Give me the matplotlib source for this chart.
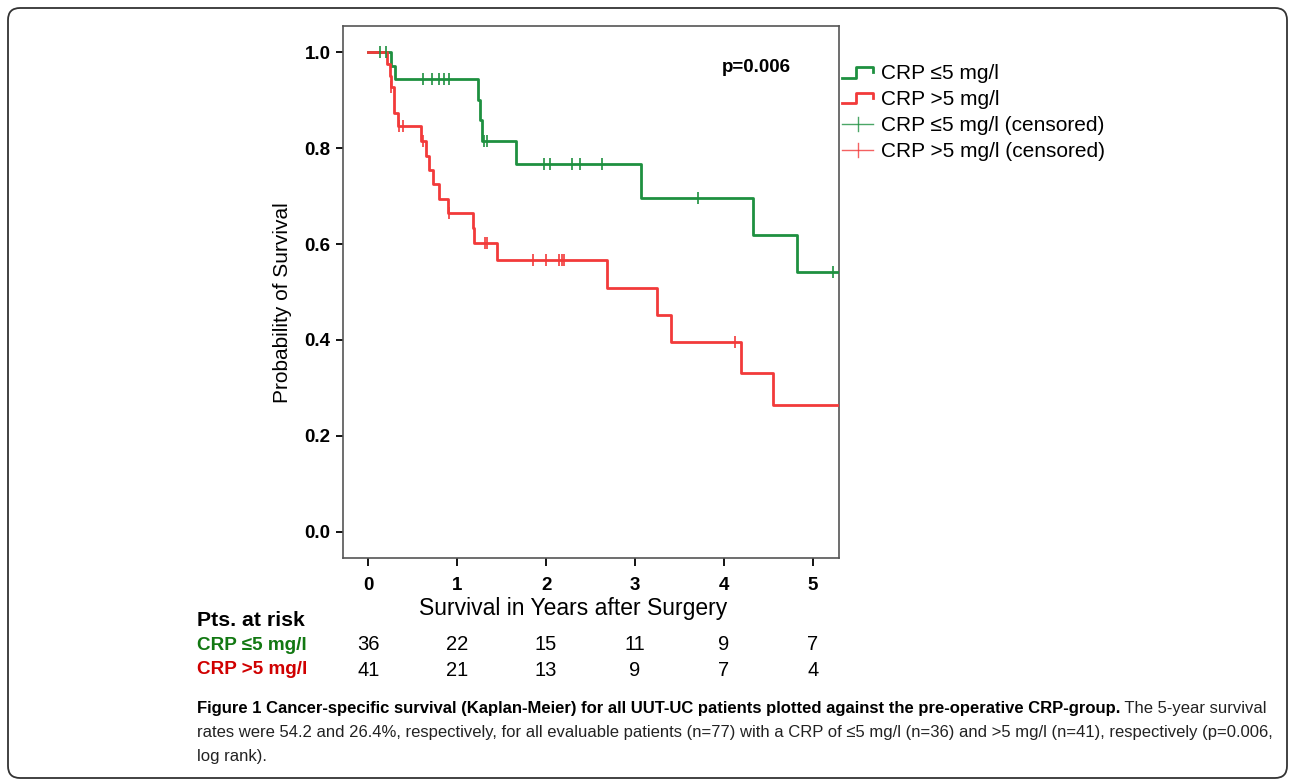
import matplotlib
matplotlib.use("Agg")
import matplotlib.pyplot as plt
import numpy as np
from matplotlib import transforms
from matplotlib.legend_handler import HandlerBase
from matplotlib.lines import Line2D
from matplotlib.patches import FancyBboxPatch

plt.rcParams["font.family"] = ["Liberation Sans", "DejaVu Sans"]

GREEN = "#1E9040"
RED = "#F23A3A"
GREEN_TXT = "#127812"
RED_TXT = "#D00000"
AX_COL = "#555555"

LOW_LABEL = "CRP \u22645 mg/l"
HIGH_LABEL = "CRP >5 mg/l"

# CRP <=5 mg/l: event times (years) and survival right after each event
low_event_t = [0.255, 0.30, 1.23, 1.255, 1.275, 1.66, 3.064, 4.33, 4.82]
low_event_s = [0.972, 0.944, 0.901, 0.858, 0.815, 0.767, 0.697, 0.619, 0.541]
low_censor_t = [0.13, 0.20, 0.615, 0.72, 0.795, 0.85, 0.91, 1.30, 1.34,
                1.976, 2.044, 2.29, 2.38, 2.63, 3.71, 5.23]
low_end = 5.35

# CRP >5 mg/l
high_event_t = [0.214, 0.245, 0.255, 0.285, 0.29, 0.337, 0.59, 0.65, 0.683,
                0.731, 0.80, 0.90, 1.18, 1.19, 1.444, 2.69, 3.253, 3.40,
                4.19, 4.55]
high_event_s = [0.976, 0.951, 0.927, 0.900, 0.873, 0.846, 0.815, 0.784, 0.755,
                0.725, 0.694, 0.665, 0.633, 0.602, 0.566, 0.508, 0.452, 0.396,
                0.330, 0.264]
high_censor_t = [0.26, 0.35, 0.39, 0.62, 0.91, 1.313, 1.33, 1.856, 1.999,
                 2.148, 2.175, 2.20, 4.125]
high_end = 5.35

risk_years = [0, 1, 2, 3, 4, 5]
low_at_risk = [36, 22, 15, 11, 9, 7]
high_at_risk = [41, 21, 13, 9, 7, 4]

p_text = "p=0.006"
caption_bold = ("Figure 1 Cancer-specific survival (Kaplan-Meier) for all UUT-UC "
                "patients plotted against the pre-operative CRP-group.")
caption_rest = " The 5-year survival"
caption_line2 = ("rates were 54.2 and 26.4%, respectively, for all evaluable patients "
                 "(n=77) with a CRP of \u22645 mg/l (n=36) and >5 mg/l (n=41), "
                 "respectively (p=0.006,")
caption_line3 = "log rank)."


def surv_at(t, ev_t, ev_s):
    idx = np.searchsorted(ev_t, t, side="right") - 1
    return np.where(idx < 0, 1.0, np.asarray(ev_s)[np.clip(idx, 0, None)])


class StepHandler(HandlerBase):
    def create_artists(self, legend, orig_handle, xdescent, ydescent,
                       width, height, fontsize, trans):
        xs = np.array([0.0, 0.45, 0.45, 1.0, 1.0]) * width - xdescent
        ys = np.array([0.1, 0.1, 0.8, 0.8, 0.45]) * height - ydescent
        return [Line2D(xs, ys, color=orig_handle.get_color(), lw=2.0,
                       transform=trans)]


class CensorHandler(HandlerBase):
    def create_artists(self, legend, orig_handle, xdescent, ydescent,
                       width, height, fontsize, trans):
        c = orig_handle.get_color()
        h = Line2D([-xdescent, width - xdescent], [0.45 * height - ydescent] * 2,
                   color=c, lw=1.0, alpha=0.8, transform=trans)
        v = Line2D([0.5 * width - xdescent] * 2,
                   [-0.05 * height - ydescent, 0.95 * height - ydescent],
                   color=c, lw=1.0, alpha=0.8, transform=trans)
        return [h, v]


W, H = 1290, 780
fig = plt.figure(figsize=(W / 100, H / 100), dpi=100)
ax = fig.add_axes([343 / W, 1 - 558 / H, (839 - 343) / W, (558 - 26) / H])

groups = [
    (low_event_t, low_event_s, low_censor_t, low_end, GREEN),
    (high_event_t, high_event_s, high_censor_t, high_end, RED),
]
step_lines = []
cens_lines = []
for ev_t, ev_s, cen_t, end, col in groups:
    tt = np.r_[0.0, ev_t, end]
    ss = np.r_[1.0, ev_s, ev_s[-1]]
    (ln,) = ax.step(tt, ss, where="post", color=col, lw=2.0, zorder=3)
    (cl,) = ax.plot(cen_t, surv_at(cen_t, ev_t, ev_s), linestyle="None",
                    marker="|", markersize=8, markeredgewidth=1.2, color=col,
                    zorder=4)
    step_lines.append(ln)
    cens_lines.append(cl)

ax.set_xlim(-0.285, 5.295)
ax.set_ylim(-0.055, 1.055)
ax.set_xticks(risk_years)
ax.set_yticks([0.0, 0.2, 0.4, 0.6, 0.8, 1.0])
ax.set_yticklabels(["0.0", "0.2", "0.4", "0.6", "0.8", "1.0"])
for lab in ax.get_xticklabels() + ax.get_yticklabels():
    lab.set_fontweight("bold")
    lab.set_fontsize(13.5)
ax.tick_params(axis="x", length=6, width=1.3, pad=8, colors="black")
ax.tick_params(axis="y", length=5, width=1.3, pad=4, colors="black")
for sp in ax.spines.values():
    sp.set_color(AX_COL)
    sp.set_linewidth(1.2)

fig.text(283 / W, 1 - 303 / H, "Probability of Survival", rotation=90,
         ha="center", va="center", fontsize=15)
fig.text(573 / W, 1 - 608 / H, "Survival in Years after Surgery",
         ha="center", va="center", fontsize=16.5)
fig.text(756 / W, 1 - 68 / H, p_text, ha="center", va="center",
         fontsize=13.5, fontweight="bold")

labels = [LOW_LABEL, HIGH_LABEL, LOW_LABEL + " (censored)", HIGH_LABEL + " (censored)"]
handles = step_lines + cens_lines
hmap = {step_lines[0]: StepHandler(), step_lines[1]: StepHandler(),
        cens_lines[0]: CensorHandler(), cens_lines[1]: CensorHandler()}
fig.legend(handles, labels, handler_map=hmap, loc="upper left",
           bbox_to_anchor=(842 / W, 1 - 64 / H), frameon=False, fontsize=15,
           handlelength=1.5, handleheight=0.7, handletextpad=0.35,
           labelspacing=0.33, borderpad=0, borderaxespad=0)

# numbers at risk
fig.text(197 / W, 1 - 620 / H, "Pts. at risk", ha="left", va="center",
         fontsize=15.3, fontweight="bold")
fig.text(197 / W, 1 - 645 / H, LOW_LABEL, ha="left", va="center",
         fontsize=13.6, fontweight="bold", color=GREEN_TXT)
fig.text(197 / W, 1 - 670 / H, HIGH_LABEL, ha="left", va="center",
         fontsize=13.6, fontweight="bold", color=RED_TXT)
blend = transforms.blended_transform_factory(ax.transData, fig.transFigure)
for yr, n_lo, n_hi in zip(risk_years, low_at_risk, high_at_risk):
    ax.text(yr, 1 - 645 / H, str(n_lo), transform=blend, ha="center",
            va="center", fontsize=14.5, clip_on=False)
    ax.text(yr, 1 - 670 / H, str(n_hi), transform=blend, ha="center",
            va="center", fontsize=14.5, clip_on=False)

# caption
cap_size = 12.0
t1 = fig.text(197 / W, 1 - 708 / H, caption_bold, ha="left", va="center",
              fontsize=cap_size, fontweight="bold")
renderer = fig.canvas.get_renderer()
bb = t1.get_window_extent(renderer)
fig.text(bb.x1 / W, 1 - 708 / H, caption_rest, ha="left", va="center",
         fontsize=cap_size, color="#222222")
fig.text(197 / W, 1 - 733 / H, caption_line2, ha="left", va="center",
         fontsize=cap_size, color="#222222")
fig.text(197 / W, 1 - 757 / H, caption_line3, ha="left", va="center",
         fontsize=cap_size, color="#222222")

# rounded frame around the whole figure
frame = FancyBboxPatch((0.08, 0.02), 12.79, 7.70,
                       boxstyle="round,pad=0,rounding_size=0.12",
                       transform=fig.dpi_scale_trans, fill=False,
                       edgecolor="#333333", linewidth=1.3)
fig.patches.append(frame)

fig.savefig("out.png", dpi=100)
